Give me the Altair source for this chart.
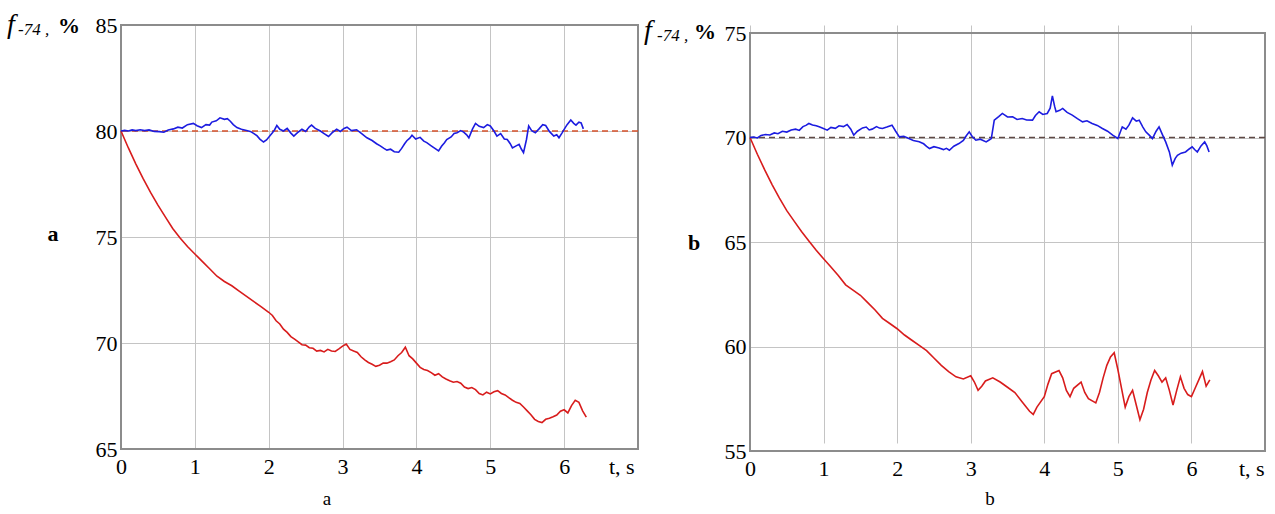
import altair as alt
import pandas as pd

# ---------------- panel a : f-74 (%) versus time t (s) ----------------
a_blue_t = [0.00, 0.05, 0.10, 0.15, 0.20, 0.26, 0.32, 0.38, 0.45, 0.52, 0.58, 0.64, 0.71, 0.77, 0.83,
            0.90, 0.98, 1.03, 1.09, 1.15, 1.20, 1.23, 1.29, 1.34, 1.40, 1.44, 1.48, 1.52, 1.57, 1.63,
            1.70, 1.75, 1.79, 1.84, 1.88, 1.93, 1.97, 2.00, 2.05, 2.08, 2.11, 2.15, 2.20, 2.25, 2.30,
            2.34, 2.39, 2.45, 2.50, 2.55, 2.58, 2.63, 2.70, 2.75, 2.81, 2.86, 2.92, 2.97, 3.02, 3.06,
            3.12, 3.19, 3.25, 3.33, 3.40, 3.46, 3.51, 3.56, 3.60, 3.65, 3.70, 3.76, 3.80, 3.84, 3.87,
            3.91, 3.94, 3.99, 4.05, 4.10, 4.14, 4.20, 4.25, 4.30, 4.34, 4.38, 4.41, 4.47, 4.51, 4.55,
            4.60, 4.64, 4.68, 4.71, 4.76, 4.80, 4.85, 4.91, 4.96, 5.00, 5.05, 5.09, 5.14, 5.19, 5.23,
            5.27, 5.30, 5.35, 5.39, 5.42, 5.45, 5.49, 5.52, 5.56, 5.61, 5.66, 5.71, 5.75, 5.80, 5.86,
            5.90, 5.93, 5.97, 6.00, 6.04, 6.09, 6.13, 6.16, 6.20, 6.23, 6.26]
a_blue_v = [80.00, 80.03, 80.00, 80.05, 80.02, 80.06, 80.02, 80.05, 79.98, 79.97, 79.94, 80.05, 80.10, 80.18, 80.14,
            80.30, 80.36, 80.25, 80.16, 80.30, 80.28, 80.42, 80.48, 80.62, 80.55, 80.58, 80.46, 80.30, 80.16, 80.08,
            80.02, 79.98, 79.90, 79.78, 79.62, 79.48, 79.58, 79.70, 79.92, 80.06, 80.26, 80.08, 80.00, 80.12, 79.90,
            79.76, 79.92, 80.08, 79.98, 80.20, 80.28, 80.12, 80.00, 79.88, 79.74, 79.92, 80.08, 79.98, 80.12, 80.18,
            80.02, 80.06, 79.90, 79.68, 79.55, 79.40, 79.30, 79.18, 79.10, 79.14, 79.02, 79.00, 79.18, 79.40, 79.54,
            79.66, 79.80, 79.62, 79.70, 79.52, 79.45, 79.30, 79.18, 79.06, 79.28, 79.45, 79.60, 79.72, 79.88, 79.92,
            80.02, 79.95, 79.82, 79.68, 80.10, 80.36, 80.22, 80.16, 80.30, 80.24, 80.00, 79.76, 79.88, 79.62, 79.60,
            79.40, 79.20, 79.30, 79.37, 79.15, 78.98, 79.60, 80.24, 80.02, 79.92, 80.10, 80.30, 80.26, 79.98, 79.76,
            79.82, 79.68, 79.90, 80.08, 80.30, 80.52, 80.36, 80.28, 80.42, 80.38, 80.10]

a_red_t = [0.0, 0.1, 0.2, 0.3, 0.4, 0.5, 0.6, 0.7, 0.8, 0.9, 1.0, 1.1, 1.2, 1.3, 1.4, 1.5, 1.6, 1.7, 1.8, 1.9,
           2.0, 2.05, 2.1, 2.15, 2.2, 2.25, 2.3, 2.35, 2.4, 2.45, 2.5, 2.55, 2.6, 2.65, 2.7, 2.75, 2.8, 2.85, 2.9, 2.95,
           3.0, 3.05, 3.1, 3.15, 3.2, 3.25, 3.3, 3.35, 3.4, 3.45, 3.5, 3.55, 3.6, 3.65, 3.7, 3.75, 3.8, 3.85, 3.9, 3.95,
           4.0, 4.05, 4.1, 4.15, 4.2, 4.25, 4.3, 4.35, 4.4, 4.45, 4.5, 4.55, 4.6, 4.65, 4.7, 4.75, 4.8, 4.85, 4.9, 4.95,
           5.0, 5.05, 5.1, 5.15, 5.2, 5.25, 5.3, 5.35, 5.4, 5.45, 5.5, 5.55, 5.6, 5.65, 5.7, 5.75, 5.8, 5.85, 5.9, 5.95,
           6.0, 6.05, 6.1, 6.15, 6.2, 6.25, 6.3]
a_red_v = [80.00, 79.20, 78.45, 77.75, 77.10, 76.50, 75.95, 75.40, 74.95, 74.55, 74.20, 73.85, 73.50, 73.15, 72.90,
           72.70, 72.45, 72.20, 71.95, 71.70,
           71.45, 71.30, 71.05, 70.90, 70.65, 70.50, 70.30, 70.18, 70.05, 69.92, 69.90, 69.78, 69.75, 69.62, 69.65,
           69.58, 69.70, 69.62, 69.60, 69.72,
           69.85, 69.95, 69.70, 69.62, 69.55, 69.35, 69.20, 69.08, 69.00, 68.90, 68.95, 69.05, 69.05, 69.12, 69.20,
           69.40, 69.55, 69.80, 69.40, 69.25,
           69.05, 68.85, 68.75, 68.70, 68.60, 68.48, 68.55, 68.40, 68.30, 68.22, 68.15, 68.18, 68.10, 67.92, 67.85,
           67.90, 67.80, 67.62, 67.55, 67.68,
           67.60, 67.70, 67.75, 67.62, 67.55, 67.42, 67.30, 67.20, 67.15, 66.98, 66.80, 66.62, 66.40, 66.30, 66.25,
           66.40, 66.45, 66.52, 66.60, 66.78,
           66.85, 66.70, 67.05, 67.30, 67.20, 66.80, 66.50]

# ---------------- panel b ----------------
b_blue_t = [0.00, 0.05, 0.10, 0.15, 0.21, 0.27, 0.33, 0.38, 0.44, 0.50, 0.56, 0.62, 0.67, 0.72, 0.76,
            0.80, 0.85, 0.90, 0.94, 0.99, 1.05, 1.10, 1.16, 1.21, 1.27, 1.32, 1.37, 1.41, 1.46, 1.53,
            1.58, 1.62, 1.66, 1.72, 1.76, 1.80, 1.86, 1.93, 1.98, 2.03, 2.09, 2.16, 2.22, 2.30, 2.36,
            2.40, 2.44, 2.50, 2.57, 2.63, 2.67, 2.71, 2.77, 2.84, 2.90, 2.94, 2.98, 3.02, 3.07, 3.13,
            3.21, 3.25, 3.28, 3.32, 3.38, 3.43, 3.50, 3.57, 3.63, 3.70, 3.76, 3.84, 3.88, 3.93, 3.98,
            4.04, 4.08, 4.11, 4.14, 4.16, 4.21, 4.25, 4.31, 4.38, 4.45, 4.52, 4.58, 4.65, 4.72, 4.79,
            4.86, 4.93, 5.00, 5.06, 5.11, 5.15, 5.20, 5.25, 5.29, 5.34, 5.38, 5.43, 5.47, 5.52, 5.56,
            5.61, 5.65, 5.70, 5.74, 5.78, 5.81, 5.86, 5.92, 5.97, 6.01, 6.05, 6.08, 6.13, 6.18, 6.21, 6.24]
b_blue_v = [70.00, 70.02, 69.98, 70.10, 70.14, 70.12, 70.22, 70.18, 70.30, 70.26, 70.36, 70.40, 70.34, 70.52, 70.58,
            70.67, 70.60, 70.56, 70.51, 70.44, 70.35, 70.48, 70.44, 70.56, 70.52, 70.62, 70.40, 70.11, 70.30, 70.46,
            70.50, 70.36, 70.40, 70.52, 70.45, 70.43, 70.50, 70.59, 70.30, 70.03, 70.06, 69.95, 69.86, 69.80, 69.70,
            69.58, 69.47, 69.56, 69.50, 69.42, 69.48, 69.39, 69.58, 69.71, 69.86, 70.08, 70.27, 70.05, 69.87, 69.92,
            69.79, 69.88, 69.95, 70.83, 71.00, 71.15, 70.98, 70.99, 70.86, 70.91, 70.84, 70.83, 71.05, 71.23, 71.10,
            71.15, 71.40, 71.99, 71.50, 71.23, 71.30, 71.39, 71.20, 71.07, 70.90, 70.75, 70.80, 70.67, 70.58, 70.43,
            70.30, 70.11, 69.95, 70.51, 70.40, 70.59, 70.94, 70.78, 70.83, 70.50, 70.27, 70.10, 69.95, 70.30, 70.51,
            70.10, 69.79, 69.31, 68.68, 69.00, 69.15, 69.25, 69.31, 69.45, 69.55, 69.40, 69.31, 69.60, 69.79, 69.60, 69.31]

b_red_t = [0.0, 0.1, 0.2, 0.3, 0.4, 0.5, 0.6, 0.7, 0.8, 0.9, 1.0, 1.1, 1.2, 1.3, 1.4, 1.5, 1.6, 1.7, 1.8, 1.9,
           2.0, 2.1, 2.2, 2.3, 2.4, 2.5, 2.6, 2.7, 2.8, 2.9,
           3.0, 3.05, 3.1, 3.15, 3.2, 3.3, 3.4, 3.5, 3.6, 3.7, 3.8, 3.85, 3.9, 4.0, 4.05, 4.1, 4.2, 4.25, 4.3, 4.35,
           4.4, 4.5, 4.55, 4.6, 4.7, 4.75, 4.8, 4.85, 4.9, 4.95, 5.0, 5.05, 5.1, 5.15, 5.2, 5.25, 5.3, 5.35, 5.4, 5.45,
           5.5, 5.55, 5.6, 5.65, 5.7, 5.75, 5.8, 5.85, 5.9, 5.95, 6.0, 6.05, 6.1, 6.15, 6.2, 6.25]
b_red_v = [70.00, 69.20, 68.45, 67.75, 67.10, 66.50, 66.00, 65.50, 65.05, 64.60, 64.20, 63.80, 63.40, 62.95, 62.70,
           62.45, 62.10, 61.75, 61.35, 61.10,
           60.85, 60.55, 60.30, 60.05, 59.80, 59.45, 59.10, 58.80, 58.55, 58.45,
           58.60, 58.30, 57.90, 58.10, 58.35, 58.50, 58.30, 58.05, 57.80, 57.35, 56.90, 56.75, 57.10, 57.60, 58.20,
           58.70, 58.85, 58.50, 57.90, 57.60,
           58.00, 58.30, 57.80, 57.50, 57.30, 57.80, 58.50, 59.10, 59.50, 59.70, 58.90, 58.00, 57.10, 57.60, 57.90,
           57.20, 56.50, 57.00, 57.80, 58.40,
           58.85, 58.60, 58.30, 58.50, 57.90, 57.20, 57.90, 58.55, 58.00, 57.70, 57.60, 58.00, 58.40, 58.80, 58.10, 58.40]

x_ticks = [0, 1, 2, 3, 4, 5, 6]
a_y_ticks = [65, 70, 75, 80, 85]
b_y_ticks = [55, 60, 65, 70, 75]

SERIF = "Liberation Serif, Times New Roman, Times, DejaVu Serif, serif"
ONE = pd.DataFrame({"k": [0]})


def label(txt, px, py, size=22, style="normal", weight="normal", align="left"):
    return alt.Chart(ONE).mark_text(
        text=txt, font=SERIF, fontSize=size, fontStyle=style, fontWeight=weight,
        align=align, baseline="alphabetic", color="black",
    ).encode(x=alt.value(px), y=alt.value(py))


def panel(blue_t, blue_v, red_t, red_v, ref, ydom, yticks, W, H, y_top, left, right_edge,
          side, caption, cap_x, title_pos, ts_x):
    xs = alt.Scale(domain=[0, 7], nice=False, zero=False)
    ys = alt.Scale(domain=ydom, nice=False, zero=False, range=[H, y_top])
    xa = alt.Axis(values=x_ticks, format="d", grid=True, gridColor="#c4c4c4", gridWidth=1,
                  domain=False, ticks=False, labelFont=SERIF, labelFontSize=22,
                  labelColor="black", labelPadding=7, title=None, labelFlush=False)
    ya = alt.Axis(values=yticks, format="d", grid=True, gridColor="#c4c4c4", gridWidth=1,
                  domain=False, ticks=False, labelFont=SERIF, labelFontSize=22,
                  labelColor="black", labelPadding=4, title=None, labelFlush=False)

    blue = pd.DataFrame({"t": blue_t, "f": blue_v})
    red = pd.DataFrame({"t": red_t, "f": red_v})

    # plot frame drawn on the data extent
    border = alt.Chart(ONE).mark_rect(fillOpacity=0, stroke="#8c8c8c", strokeWidth=2).encode(
        x=alt.datum(0, scale=xs, axis=xa), x2=alt.datum(7),
        y=alt.datum(ydom[0], scale=ys, axis=ya), y2=alt.datum(ydom[1]))
    refline = alt.Chart(ONE).mark_rule(
        strokeDash=[6, 4], strokeWidth=1.5, color=ref[1]
    ).encode(y=alt.datum(ref[0], scale=ys, axis=ya))
    red_line = alt.Chart(red).mark_line(color="#d81c1c", strokeWidth=1.6).encode(
        x=alt.X("t:Q", scale=xs, axis=xa), y=alt.Y("f:Q", scale=ys, axis=ya))
    blue_line = alt.Chart(blue).mark_line(color="#1c1ce0", strokeWidth=1.6).encode(
        x=alt.X("t:Q", scale=xs, axis=xa), y=alt.Y("f:Q", scale=ys, axis=ya))

    # transparent rule that fixes the outer extent of the panel
    frame = alt.Chart(ONE).mark_rule(strokeOpacity=0, opacity=0).encode(
        x=alt.value(-left), x2=alt.value(right_edge), y=alt.value(-25))

    fx, fy, mx, my, px_, py_ = title_pos
    texts = [
        label("f", fx, fy, size=28, style="italic"),
        label("-74 ,", mx, my, size=17, style="italic"),
        label("%", px_, py_, size=22, weight="bold"),
        label(side[0], side[1], side[2], size=22, weight="bold", align="center"),
        label(caption, cap_x, 480, size=19, align="center"),
        alt.Chart(ONE).mark_text(text="t,   s", font=SERIF, fontSize=22, align="center",
                                 baseline="alphabetic", color="black").encode(
            x=alt.datum(ts_x, scale=xs), y=alt.value(H + 25)),
    ]
    return alt.layer(frame, border, refline, red_line, blue_line, *texts).properties(
        width=W, height=H)


left_panel = panel(a_blue_t, a_blue_v, a_red_t, a_red_v, (80, "#d6502a"), [65, 85], a_y_ticks,
                   517, 424, 0, 121, 520, ("a", -68, 216), "a", 206,
                   (-114, 8, -103, 10, -63, 8), 6.78)
right_panel = panel(b_blue_t, b_blue_v, b_red_t, b_red_v, (70, "#5e4844"), [55, 75], b_y_ticks,
                    515, 426, 8, 109, 520, ("b", -56, 225), "b", 240,
                    (-106, 14, -93, 16, -56, 14), 6.82)

chart = alt.hconcat(left_panel, right_panel, spacing=0, bounds="full").properties(
    padding=0, background="white"
).configure_view(stroke=None)

chart.save("out.html", embed_options={"renderer": "svg", "actions": False})
